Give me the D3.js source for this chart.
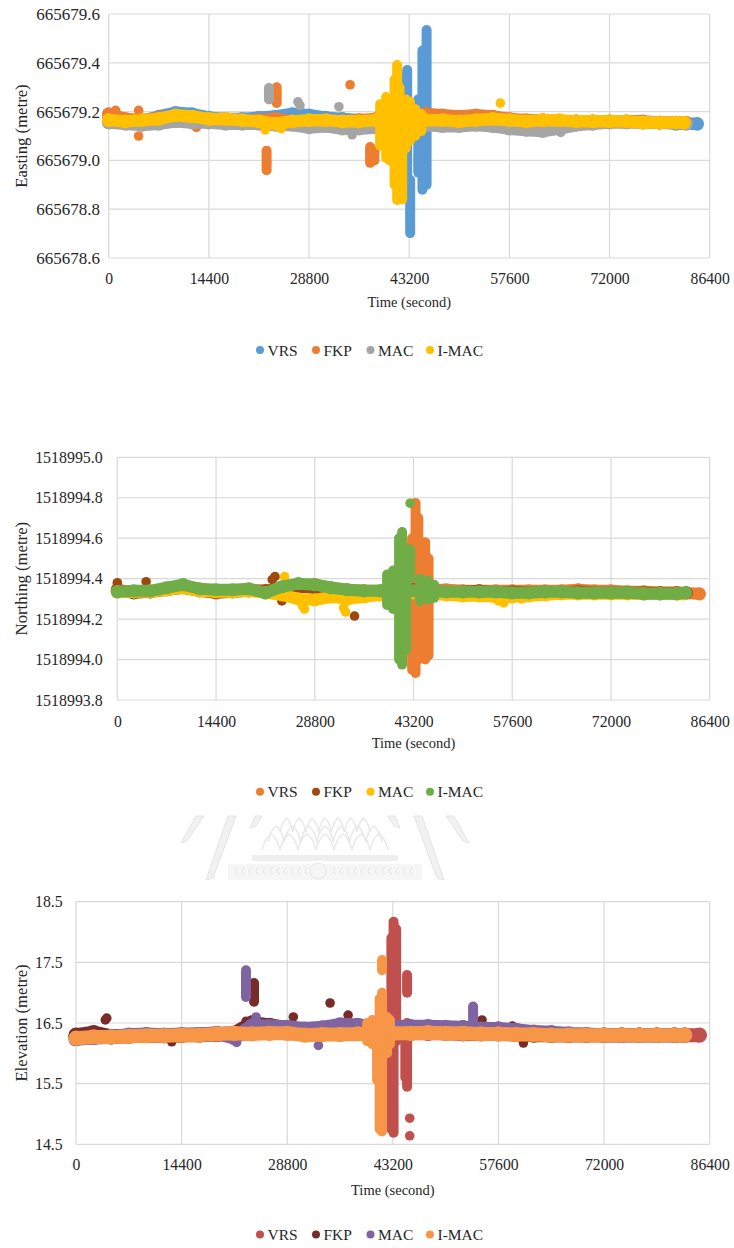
<!DOCTYPE html>
<html><head><meta charset="utf-8">
<script src="https://cdn.jsdelivr.net/npm/d3@7/dist/d3.min.js"></script>
<style>
body{margin:0;background:#fff}
svg{display:block}
text{font-family:"Liberation Serif","Times New Roman",serif;fill:#262626}
</style></head><body>
<svg id="c" width="734" height="1248"></svg>
<script>
// ---------- shared ----------
const SERIES_NAMES = ["VRS","FKP","MAC","I-MAC"];
const TIME_TICKS = [0,14400,28800,43200,57600,72000,86400];
const TIME_GRID = [0,2400,4800,7200,9600,12000,14400,16800,19200,21600,24000,26400,28800,31200,33600,36000,38400,40800,43200,45600,48000,50400,52800,55200,57600,60000,62400,64800,67200,69600,72000,74400,76800,79200,81600];

// ---------- Easting ----------
const E_TICKS = [665678.6,665678.8,665679.0,665679.2,665679.4,665679.6];
const E_COLORS = ["#5B9BD5","#ED7D31","#A5A5A5","#FFC000"];
const E_VRS = [665679.17,665679.165,665679.16,665679.18,665679.195,665679.19,665679.175,665679.17,665679.17,665679.175,665679.18,665679.19,665679.185,665679.175,665679.17,665679.165,665679.165,665679.17,665679.16,665679.16,665679.165,665679.165,665679.165,665679.165,665679.165,665679.16,665679.16,665679.16,665679.16,665679.16,665679.16,665679.16,665679.155,665679.155,665679.15];
const E_FKP = [665679.19,665679.17,665679.165,665679.175,665679.18,665679.17,665679.16,665679.165,665679.16,665679.165,665679.17,665679.16,665679.155,665679.155,665679.16,665679.165,665679.17,665679.175,665679.18,665679.19,665679.185,665679.18,665679.185,665679.18,665679.17,665679.165,665679.165,665679.16,665679.16,665679.16,665679.16,665679.16,665679.16,665679.155,665679.155];
const E_MAC = [665679.155,665679.15,665679.145,665679.15,665679.16,665679.155,665679.155,665679.15,665679.15,665679.15,665679.145,665679.145,665679.135,665679.14,665679.13,665679.13,665679.135,665679.14,665679.15,665679.145,665679.14,665679.14,665679.145,665679.14,665679.13,665679.125,665679.12,665679.13,665679.145,665679.15,665679.155,665679.155,665679.155,665679.155,665679.155];
const E_IMAC = [665679.165,665679.16,665679.165,665679.17,665679.185,665679.18,665679.17,665679.17,665679.165,665679.16,665679.15,665679.16,665679.165,665679.165,665679.16,665679.16,665679.165,665679.17,665679.165,665679.165,665679.165,665679.16,665679.165,665679.17,665679.165,665679.16,665679.165,665679.165,665679.16,665679.16,665679.16,665679.16,665679.155,665679.155,665679.155];
const E_TAILS = [[84600,665679.15],[83000,665679.155],[83000,665679.15],[82700,665679.155]];
const E_VRS_RUNS = [[45700,665678.90,665679.534],[45100,665678.88,665679.45],[44500,665678.95,665679.25],[43340,665678.702,665678.92],[42910,665678.899,665679.37],[42300,665679.0,665679.338]];
const E_FKP_RUNS = [[22700,665678.96,665679.04],[24150,665679.235,665679.30],[37580,665678.99,665679.055],[38200,665679.0,665679.04]];
const E_MAC_RUNS = [[23040,665679.25,665679.297]];
const E_IMAC_RUNS = [[41470,665678.838,665679.391],[41100,665678.90,665679.33],[41800,665678.86,665679.30],[42190,665678.84,665679.04],[39020,665679.06,665679.23],[39890,665679.01,665679.26],[40400,665679.0,665679.25],[42700,665679.05,665679.25],[43300,665679.08,665679.24],[44060,665679.10,665679.21],[44930,665679.12,665679.19]];
const E_VRS_DOTS = [];
const E_FKP_DOTS = [[4300,665679.10],[4300,665679.205],[12600,665679.135],[34700,665679.31],[1000,665679.205]];
const E_MAC_DOTS = [[27200,665679.24],[27500,665679.225],[33100,665679.22],[35000,665679.105],[65000,665679.115]];
const E_IMAC_DOTS = [[56300,665679.235],[22500,665679.125],[24800,665679.13]];

// ---------- Northing ----------
const N_TICKS = [1518993.8,1518994.0,1518994.2,1518994.4,1518994.6,1518994.8,1518995.0];
const N_COLORS = ["#ED7D31","#9E480E","#FFC000","#70AD47"];
const N_VRS = [1518994.34,1518994.335,1518994.335,1518994.345,1518994.36,1518994.345,1518994.34,1518994.34,1518994.345,1518994.34,1518994.355,1518994.37,1518994.37,1518994.355,1518994.345,1518994.34,1518994.34,1518994.345,1518994.35,1518994.345,1518994.345,1518994.34,1518994.34,1518994.34,1518994.34,1518994.34,1518994.34,1518994.34,1518994.345,1518994.34,1518994.34,1518994.335,1518994.335,1518994.33,1518994.33];
const N_FKP = [1518994.345,1518994.33,1518994.335,1518994.345,1518994.355,1518994.34,1518994.33,1518994.335,1518994.34,1518994.34,1518994.35,1518994.36,1518994.355,1518994.345,1518994.33,1518994.33,1518994.335,1518994.34,1518994.345,1518994.34,1518994.33,1518994.335,1518994.34,1518994.33,1518994.335,1518994.33,1518994.33,1518994.33,1518994.335,1518994.33,1518994.33,1518994.33,1518994.33,1518994.33,1518994.33];
const N_MAC = [1518994.335,1518994.335,1518994.335,1518994.345,1518994.355,1518994.34,1518994.335,1518994.335,1518994.34,1518994.33,1518994.32,1518994.30,1518994.295,1518994.31,1518994.30,1518994.31,1518994.32,1518994.33,1518994.33,1518994.325,1518994.32,1518994.315,1518994.315,1518994.31,1518994.31,1518994.315,1518994.32,1518994.325,1518994.325,1518994.325,1518994.325,1518994.325,1518994.325,1518994.325,1518994.325];
const N_IMAC = [1518994.335,1518994.34,1518994.34,1518994.355,1518994.37,1518994.35,1518994.345,1518994.345,1518994.35,1518994.33,1518994.36,1518994.375,1518994.37,1518994.355,1518994.345,1518994.34,1518994.34,1518994.345,1518994.34,1518994.34,1518994.335,1518994.335,1518994.335,1518994.335,1518994.33,1518994.33,1518994.335,1518994.335,1518994.33,1518994.33,1518994.33,1518994.33,1518994.325,1518994.325,1518994.325];
const N_TAILS = [[84900,1518994.325],[83000,1518994.33],[82500,1518994.325],[82900,1518994.33]];
const N_VRS_RUNS = [[43000,1518993.95,1518994.60],[43500,1518993.934,1518994.774],[43900,1518994.0,1518994.70],[42700,1518994.39,1518994.56],[44900,1518994.0,1518994.58],[45400,1518994.02,1518994.50]];
const N_FKP_RUNS = [];
const N_MAC_RUNS = [];
const N_IMAC_RUNS = [[41100,1518994.0,1518994.60],[41540,1518993.975,1518994.631],[42120,1518994.049,1518994.518],[42700,1518994.40,1518994.544],[39350,1518994.27,1518994.42],[40230,1518994.25,1518994.44],[44160,1518994.29,1518994.40],[45330,1518994.30,1518994.39],[46200,1518994.305,1518994.37]];
const N_VRS_DOTS = [];
const N_FKP_DOTS = [[0,1518994.38],[4200,1518994.385],[23000,1518994.41],[22600,1518994.395],[24000,1518994.29],[34600,1518994.215]];
const N_MAC_DOTS = [[27300,1518994.25],[27000,1518994.265],[33300,1518994.235],[33000,1518994.255],[24400,1518994.41],[56360,1518994.28],[55600,1518994.29],[59000,1518994.30]];
const N_IMAC_DOTS = [[42700,1518994.773]];

// ---------- Elevation ----------
const EL_TICKS = [14.5,15.5,16.5,17.5,18.5];
const EL_COLORS = ["#C0504D","#772C2A","#8064A2","#F79646"];
const EL_VRS = [16.28,16.28,16.27,16.28,16.29,16.29,16.30,16.30,16.31,16.32,16.33,16.34,16.34,16.33,16.33,16.34,16.34,16.34,16.33,16.33,16.33,16.33,16.32,16.32,16.32,16.31,16.31,16.30,16.30,16.30,16.30,16.30,16.30,16.30,16.30];
const EL_FKP = [16.30,16.34,16.28,16.29,16.30,16.29,16.30,16.31,16.32,16.33,16.50,16.46,16.42,16.34,16.36,16.38,16.34,16.35,16.34,16.34,16.36,16.40,16.42,16.38,16.40,16.33,16.30,16.30,16.30,16.30,16.30,16.30,16.30,16.30,16.30];
const EL_MAC = [16.24,16.26,16.27,16.30,16.31,16.30,16.31,16.31,16.33,16.26,16.45,16.44,16.43,16.40,16.42,16.47,16.46,16.44,16.43,16.44,16.44,16.43,16.42,16.40,16.40,16.38,16.35,16.34,16.32,16.31,16.30,16.30,16.30,16.30,16.30];
const EL_IMAC = [16.25,16.27,16.27,16.28,16.29,16.29,16.30,16.30,16.32,16.33,16.32,16.33,16.33,16.30,16.31,16.31,16.32,16.33,16.33,16.33,16.34,16.33,16.33,16.32,16.32,16.31,16.31,16.30,16.30,16.30,16.30,16.30,16.30,16.30,16.30];
const EL_TAILS = [[85000,16.30],[83000,16.30],[83000,16.30],[83000,16.30]];
const EL_VRS_RUNS = [[43000,14.75,17.9],[43300,14.69,18.17],[43650,16.2,18.05],[45140,17.0,17.29],[45140,15.45,16.5],[44900,15.6,16.4]];
const EL_FKP_RUNS = [[24270,16.85,17.16]];
const EL_MAC_RUNS = [[23180,16.93,17.37],[54140,16.5,16.77]];
const EL_IMAC_RUNS = [[41730,17.37,17.54],[41730,14.71,17.0],[41400,14.75,16.9],[41050,15.56,16.30],[42400,16.0,16.6],[39700,16.2,16.5],[40400,16.15,16.55],[42800,16.15,16.55]];
const EL_VRS_DOTS = [[45500,14.93],[45500,14.64]];
const EL_FKP_DOTS = [[4190,16.58],[4000,16.55],[34640,16.83],[37100,16.63],[55360,16.55],[61000,16.17],[59500,16.45],[13050,16.19],[29630,16.60],[23200,16.53],[24000,16.55]];
const EL_MAC_DOTS = [[21900,16.18],[33050,16.13],[24550,16.60]];
const EL_IMAC_DOTS = [];

// ---------- build ----------
function mk(vals, tails, runs, dots, colors){
  return SERIES_NAMES.map((n,i)=>({name:n,color:colors[i],
    pts:TIME_GRID.map((t,j)=>[t,vals[i][j]]).concat([tails[i]]),
    runs:runs[i], dots:dots[i]}));
}
const charts = [
 {left:108.7,right:709.7,top:14,bottom:258,yDomain:[665678.6,665679.6],yTicks:E_TICKS,fmt:d3.format(".1f"),
  ytitle:"Easting (metre)",ytickSize:17,labelRight:100,xTickY:278,xTitleY:302,legendY:350,band:12.5,
  series:mk([E_VRS,E_FKP,E_MAC,E_IMAC],E_TAILS,[E_VRS_RUNS,E_FKP_RUNS,E_MAC_RUNS,E_IMAC_RUNS],[E_VRS_DOTS,E_FKP_DOTS,E_MAC_DOTS,E_IMAC_DOTS],E_COLORS)},
 {left:117.3,right:709.7,top:457.3,bottom:700,yDomain:[1518993.8,1518995.0],yTicks:N_TICKS,fmt:d3.format(".1f"),
  ytitle:"Northing (metre)",ytickSize:15.9,labelRight:102.7,xTickY:721.7,xTitleY:743.3,legendY:791.7,band:12,
  series:mk([N_VRS,N_FKP,N_MAC,N_IMAC],N_TAILS,[N_VRS_RUNS,N_FKP_RUNS,N_MAC_RUNS,N_IMAC_RUNS],[N_VRS_DOTS,N_FKP_DOTS,N_MAC_DOTS,N_IMAC_DOTS],N_COLORS)},
 {left:76,right:709.7,top:901.7,bottom:1144.3,yDomain:[14.5,18.5],yTicks:EL_TICKS,fmt:d3.format(".1f"),
  ytitle:"Elevation (metre)",ytickSize:15.8,labelRight:62.7,xTickY:1165,xTitleY:1190,legendY:1234.5,band:14,
  series:mk([EL_VRS,EL_FKP,EL_MAC,EL_IMAC],EL_TAILS,[EL_VRS_RUNS,EL_FKP_RUNS,EL_MAC_RUNS,EL_IMAC_RUNS],[EL_VRS_DOTS,EL_FKP_DOTS,EL_MAC_DOTS,EL_IMAC_DOTS],EL_COLORS)}
];
const LEGEND_X = [260,316,370.5,430];

const svg = d3.select("#c");

// faint watermark emblem between chart 2 and chart 3
(function(){
  const w = svg.append("g").attr("fill","#f1f1f1").attr("stroke","#e4e4e4").attr("stroke-width",1);
  const cx = 325;
  const spears = [[[181,843],[196,816],[204,816],[187,841]],[[206,880],[228,816],[236,816],[213,878]],[[250,828],[255,816],[262,816],[256,826]]];
  spears.forEach(p=>{
    w.append("path").attr("d",d3.line()(p)+"Z");
    w.append("path").attr("d",d3.line()(p.map(q=>[2*cx-q[0],q[1]]))+"Z");
  });
  const g2 = svg.append("g").attr("fill","none").attr("stroke","#e6e6e6").attr("stroke-width",1.3);
  [[262,388,850,834],[268,382,842,826],[280,370,832,818]].forEach(([a,b,y0,y1])=>{
    const n = 7, step=(b-a)/n; let d="M"+a+","+y0;
    for(let i=0;i<n;i++){ d+="Q"+(a+step*i+step*0.15)+","+(y1+4)+" "+(a+step*(i+0.5))+","+y1+"Q"+(a+step*(i+0.85))+","+(y1+4)+" "+(a+step*(i+1))+","+y0; }
    g2.append("path").attr("d",d);
  });
  svg.append("rect").attr("x",252).attr("y",855).attr("width",146).attr("height",6).attr("fill","#eeeeee");
  svg.append("rect").attr("x",228).attr("y",864).attr("width",194).attr("height",16).attr("fill","#f6f6f6");
  const g3 = svg.append("g").attr("fill","none").attr("stroke","#e6e6e6").attr("stroke-width",1);
  for(let xx=236; xx<416; xx+=7){ if(Math.abs(xx-318)>11) g3.append("path").attr("d",`M${xx+2},868a3,3 0 1,0 0,6`); }
  g3.append("circle").attr("cx",318).attr("cy",871).attr("r",8);
})();

charts.forEach(c=>{
  const g = svg.append("g");
  const x = d3.scaleLinear().domain([0,86400]).range([c.left,c.right]);
  const y = d3.scaleLinear().domain(c.yDomain).range([c.bottom,c.top]);
  // gridlines
  g.append("g").selectAll("line").data(c.yTicks).join("line")
    .attr("x1",c.left).attr("x2",c.right).attr("y1",d=>y(d)).attr("y2",d=>y(d))
    .attr("stroke","#d9d9d9").attr("stroke-width",1.2);
  g.append("g").selectAll("line").data(TIME_TICKS).join("line")
    .attr("x1",d=>x(d)).attr("x2",d=>x(d)).attr("y1",c.top).attr("y2",c.bottom)
    .attr("stroke","#d9d9d9").attr("stroke-width",1.2);
  // axes labels
  const ay = g.append("g").attr("transform",`translate(${c.left},0)`)
    .call(d3.axisLeft(y).tickValues(c.yTicks).tickFormat(c.fmt).tickSize(0).tickPadding(c.left-c.labelRight));
  ay.select(".domain").remove();
  ay.selectAll("text").attr("font-size",c.ytickSize).attr("fill","#262626");
  const ax = g.append("g").attr("transform",`translate(0,${c.bottom})`)
    .call(d3.axisBottom(x).tickValues(TIME_TICKS).tickFormat(d3.format("d")).tickSize(0).tickPadding(0));
  ax.select(".domain").remove();
  ax.selectAll("text").attr("font-size",15.7).attr("fill","#262626")
    .attr("dy",null).attr("y",c.xTickY-c.bottom).attr("dominant-baseline","central");
  // titles
  g.append("text").attr("x",(c.left+c.right)/2).attr("y",c.xTitleY).attr("text-anchor","middle")
    .attr("dominant-baseline","central").attr("font-size",14.5).text("Time (second)");
  g.append("text").attr("transform",`translate(21.7,${(c.top+c.bottom)/2}) rotate(-90)`).attr("text-anchor","middle")
    .attr("dominant-baseline","central").attr("font-size",16.7).text(c.ytitle);
  // series
  const line = d3.line().x(d=>x(d[0])).y(d=>y(d[1]));
  c.series.forEach(s=>{
    const sg = g.append("g");
    sg.append("path").attr("d",line(s.pts)).attr("fill","none").attr("stroke",s.color)
      .attr("stroke-width",c.band).attr("stroke-linecap","round").attr("stroke-linejoin","round");
    sg.selectAll("circle.p").data(s.pts).join("circle").attr("class","p")
      .attr("cx",d=>x(d[0])).attr("cy",d=>y(d[1])).attr("r",c.band/2+0.6).attr("fill",s.color);
    sg.selectAll("line.r").data(s.runs).join("line").attr("class","r")
      .attr("x1",d=>x(d[0])).attr("x2",d=>x(d[0])).attr("y1",d=>y(d[1])).attr("y2",d=>y(d[2]))
      .attr("stroke",s.color).attr("stroke-width",10).attr("stroke-linecap","round");
    sg.selectAll("circle.o").data(s.dots).join("circle").attr("class","o")
      .attr("cx",d=>x(d[0])).attr("cy",d=>y(d[1])).attr("r",4.8).attr("fill",s.color);
  });
  // legend
  const lg = g.append("g");
  c.series.forEach((s,i)=>{
    lg.append("circle").attr("cx",LEGEND_X[i]).attr("cy",c.legendY).attr("r",4).attr("fill",s.color);
    lg.append("text").attr("x",LEGEND_X[i]+7.5).attr("y",c.legendY).attr("dominant-baseline","central")
      .attr("font-size",15.5).text(s.name);
  });
});
</script>
</body></html>
